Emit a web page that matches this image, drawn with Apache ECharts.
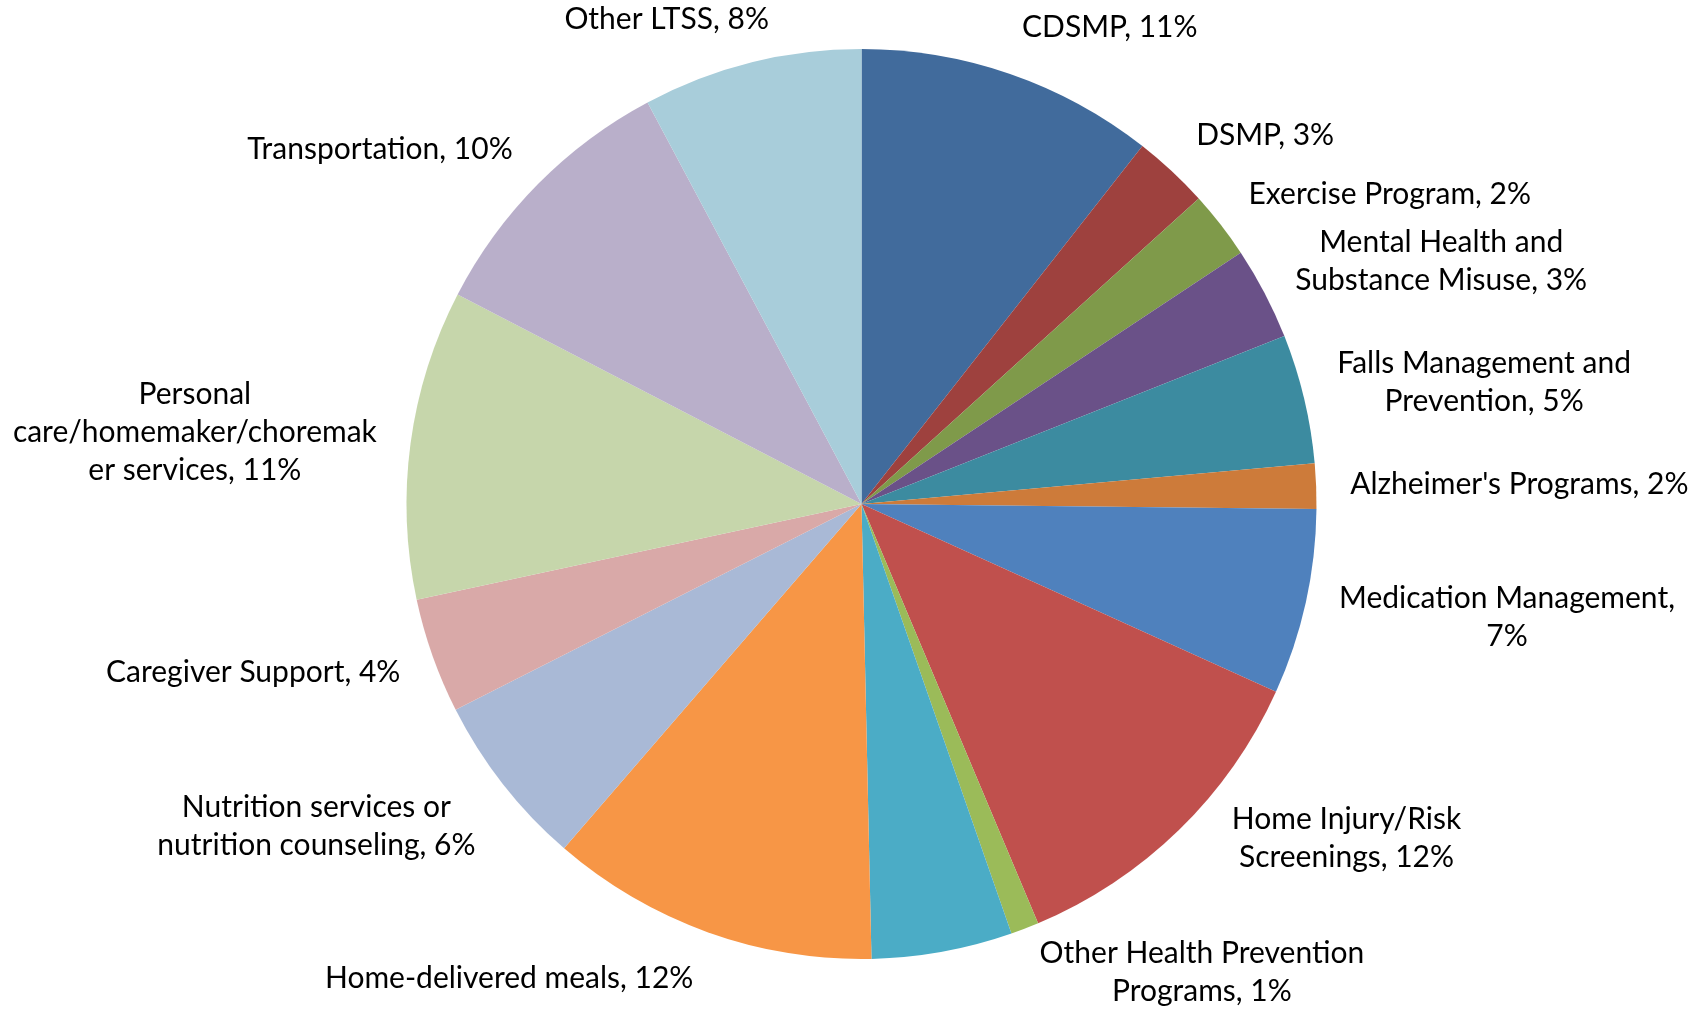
<!DOCTYPE html>
<html>
<head>
<meta charset="utf-8">
<script src="https://cdn.jsdelivr.net/npm/echarts@6/dist/echarts.min.js"></script>
<style>
html,body{margin:0;padding:0;background:#fff;}
#chart{width:1698px;height:1010px;}
</style>
</head>
<body>
<div id="chart"></div>
<script>
// ---- data ----
const categories = [
  "CDSMP", "DSMP", "Exercise Program", "Mental Health and Substance Misuse",
  "Falls Management and Prevention", "Alzheimer's Programs", "Medication Management",
  "Home Injury/Risk Screenings", "Other Health Prevention Programs", "",
  "Home-delivered meals", "Nutrition services or nutrition counseling", "Caregiver Support",
  "Personal care/homemaker/choremaker services", "Transportation", "Other LTSS"
];
const values = [10.6, 2.7, 2.4, 3.3, 4.6, 1.6, 6.6, 11.9, 1.0, 5.0, 11.7, 6.2, 4.1, 11.0, 9.6, 7.8];
// label text as wrapped in the picture (percent appended from the data)
const labelNames = [
  "CDSMP", "DSMP", "Exercise Program", "Mental Health and\nSubstance Misuse",
  "Falls Management and\nPrevention", "Alzheimer's Programs", "Medication Management,\n",
  "Home Injury/Risk\nScreenings", "Other Health Prevention\nPrograms", "",
  "Home-delivered meals", "Nutrition services or\nnutrition counseling", "Caregiver Support",
  "Personal\ncare/homemaker/choremak\ner services", "Transportation", "Other LTSS"
];
const colors = [
  "#416B9C", "#9E413E", "#7F9A4A", "#6A5188", "#3C8BA0", "#CD7B3A",
  "#4F81BD", "#C0504D", "#9BBB59", "#4BACC6", "#F79646",
  "#A9B9D6", "#D9A9A8", "#C6D6AB", "#B9AFCA", "#A8CDDA"
];

// ---- layout constants ----
const W = 1698, H = 1010;
const CX = 861.5, CY = 504, RADIUS = 455;
const GAP = 30, PADX = 4;

const total = values.reduce((a, b) => a + b, 0);
const midAngles = [];
{
  let acc = 0;
  for (const v of values) { midAngles.push((acc + v / 2) / total * Math.PI * 2); acc += v; }
}
const labelNudge = { 7: [28, -40] };

const chart = echarts.init(document.getElementById('chart'), null, { renderer: 'canvas' });
chart.setOption({
  animation: false,
  backgroundColor: '#ffffff',
  series: [{
    type: 'pie',
    center: [CX, CY],
    radius: [0, RADIUS],
    startAngle: 90,
    clockwise: true,
    avoidLabelOverlap: false,
    label: {
      show: true,
      position: 'outside',
      fontFamily: 'Lato',
      fontSize: 30,
      lineHeight: 38,
      color: '#000000',
      align: 'center',
      formatter: function (p) {
        const pct = Math.round(p.value / total * 100);
        const nm = labelNames[p.dataIndex];
        if (nm.endsWith('\n')) return nm + pct + '%';
        return nm + ', ' + pct + '%';
      }
    },
    labelLine: { show: false },
    itemStyle: { borderWidth: 0 },
    emphasis: { disabled: true },
    labelLayout: function (p) {
      const i = p.dataIndex;
      const a = midAngles[i];
      const ux = Math.sin(a), uy = -Math.cos(a);
      const w = p.labelRect.width, h = p.labelRect.height;
      const R = RADIUS + GAP;
      const sx = Math.max(-1, Math.min(1, 3 * ux));
      let x = CX + R * ux + sx * (w / 2 + PADX);
      let y = CY + R * uy + uy * h / 2;
      if (labelNudge[i]) { x += labelNudge[i][0]; y += labelNudge[i][1]; }
      y = Math.min(y, H - h / 2);
      y = Math.max(y, h / 2);
      x = Math.min(x, W - w / 2);
      x = Math.max(x, w / 2);
      return { x: x, y: y, align: 'center', verticalAlign: 'middle' };
    },
    data: categories.map((c, i) => ({
      name: c,
      value: values[i],
      itemStyle: { color: colors[i] },
      label: { show: labelNames[i] !== '' }
    }))
  }]
});
</script>
</body>
</html>
